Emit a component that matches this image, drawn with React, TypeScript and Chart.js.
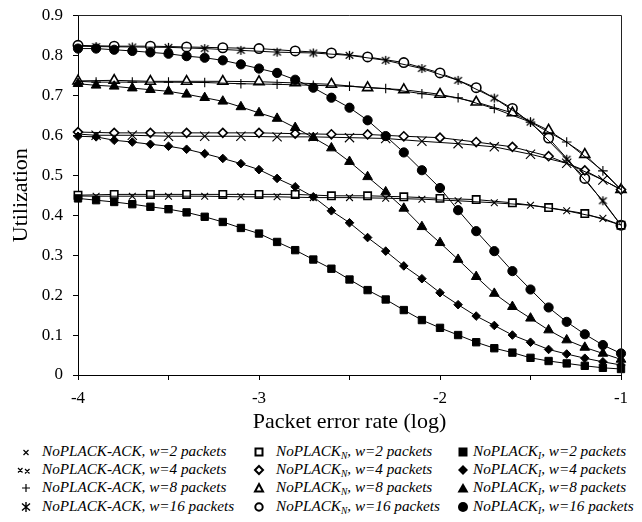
import React, { useEffect, useRef } from "react";
import { Chart, registerables } from "chart.js";
Chart.register(...registerables);

// ---- data ----
const xTenths = [-4, -3.9, -3.8, -3.7, -3.6, -3.5, -3.4, -3.3, -3.2, -3.1, -3, -2.9, -2.8, -2.7, -2.6, -2.5, -2.4, -2.3, -2.2, -2.1, -2, -1.9, -1.8, -1.7, -1.6, -1.5, -1.4, -1.3, -1.2, -1.1, -1];
const xFifths = [-4, -3.8, -3.6, -3.4, -3.2, -3, -2.8, -2.6, -2.4, -2.2, -2, -1.8, -1.6, -1.4, -1.2, -1];
const xAck = [-4, -3.9, -3.7, -3.5, -3.3, -3.1, -2.9, -2.7, -2.5, -2.3, -2.1, -1.9, -1.7, -1.5, -1.3, -1.1, -1];

const windows = [2, 4, 8, 16];

const ack2 = [0.448, 0.4475, 0.4475, 0.4475, 0.4475, 0.446, 0.446, 0.444, 0.444, 0.4425, 0.44, 0.436, 0.431, 0.425, 0.411, 0.392, 0.375];
const ack4 = [0.603, 0.6, 0.6, 0.5975, 0.5975, 0.5975, 0.596, 0.596, 0.594, 0.592, 0.585, 0.579, 0.571, 0.5525, 0.53, 0.488, 0.464];
const ack8 = [0.735, 0.733, 0.733, 0.733, 0.732, 0.729, 0.7275, 0.725, 0.7225, 0.717, 0.704, 0.694, 0.667, 0.633, 0.583, 0.511, 0.464];
const ack16 = [0.823, 0.822, 0.821, 0.82, 0.817, 0.8125, 0.808, 0.806, 0.8, 0.7875, 0.767, 0.7375, 0.693, 0.633, 0.54, 0.436, 0.375];

const n2 = [0.45, 0.452, 0.452, 0.452, 0.452, 0.452, 0.452, 0.4485, 0.4485, 0.446, 0.442, 0.439, 0.431, 0.419, 0.404, 0.375];
const n4 = [0.608, 0.606, 0.606, 0.606, 0.606, 0.606, 0.604, 0.6025, 0.602, 0.5975, 0.594, 0.583, 0.571, 0.5475, 0.512, 0.464];
const n8 = [0.736, 0.7375, 0.735, 0.735, 0.735, 0.734, 0.731, 0.7275, 0.719, 0.714, 0.7025, 0.683, 0.656, 0.6125, 0.552, 0.464];
const n16 = [0.825, 0.823, 0.823, 0.821, 0.819, 0.817, 0.811, 0.806, 0.796, 0.782, 0.756, 0.719, 0.667, 0.593, 0.492, 0.375];

const i2 = [0.442, 0.4375, 0.433, 0.4275, 0.421, 0.415, 0.407, 0.396, 0.383, 0.368, 0.354, 0.333, 0.3125, 0.289, 0.266, 0.239, 0.2125, 0.189, 0.1625, 0.1375, 0.118, 0.1, 0.082, 0.067, 0.056, 0.043, 0.035, 0.029, 0.023, 0.018, 0.015];
const i4 = [0.5975, 0.596, 0.5875, 0.583, 0.5775, 0.5725, 0.565, 0.554, 0.542, 0.529, 0.514, 0.492, 0.471, 0.446, 0.411, 0.381, 0.344, 0.31, 0.273, 0.241, 0.206, 0.176, 0.1475, 0.124, 0.1, 0.082, 0.064, 0.0525, 0.042, 0.033, 0.025];
const i8 = [0.729, 0.725, 0.7225, 0.718, 0.714, 0.71, 0.7025, 0.694, 0.685, 0.671, 0.656, 0.642, 0.619, 0.594, 0.568, 0.534, 0.496, 0.458, 0.417, 0.371, 0.331, 0.289, 0.246, 0.204, 0.171, 0.142, 0.1125, 0.0875, 0.069, 0.054, 0.039];
const i16 = [0.817, 0.817, 0.814, 0.811, 0.8075, 0.804, 0.798, 0.794, 0.7875, 0.7775, 0.767, 0.756, 0.739, 0.719, 0.694, 0.669, 0.6375, 0.598, 0.557, 0.5125, 0.468, 0.4125, 0.36, 0.31, 0.26, 0.214, 0.169, 0.133, 0.102, 0.075, 0.054];

const xTickLabels = ["-4", "-3", "-2", "-1"];
const xTitle = "Packet error rate (log)";
const yTitle = "Utilization";

const FONT = "'Liberation Serif', 'Times New Roman', serif";

function pts(xs: number[], ys: number[]) {
  return xs.map((x, i) => ({ x, y: ys[i] }));
}

function makeAsterisk(size: number) {
  const c = document.createElement("canvas");
  c.width = size;
  c.height = size;
  const g = c.getContext("2d")!;
  g.strokeStyle = "#000";
  g.lineWidth = 1.3;
  const m = size / 2;
  const r = size / 2 - 1;
  g.beginPath();
  g.moveTo(m, m - r);
  g.lineTo(m, m + r);
  g.moveTo(m - r * 0.85, m - r * 0.7);
  g.lineTo(m + r * 0.85, m + r * 0.7);
  g.moveTo(m + r * 0.85, m - r * 0.7);
  g.lineTo(m - r * 0.85, m + r * 0.7);
  g.stroke();
  return c;
}

const boxPlugin = {
  id: "box",
  afterDraw(chart: any) {
    const { ctx, chartArea: a } = chart;
    ctx.save();
    ctx.strokeStyle = "#222";
    ctx.lineWidth = 1;
    const t = Math.round(a.top) + 0.5;
    const r = Math.round(a.right) + 0.5;
    ctx.beginPath();
    ctx.moveTo(a.left, t);
    ctx.lineTo(r, t);
    ctx.lineTo(r, a.bottom);
    ctx.stroke();
    ctx.restore();
  },
};

function ChartView() {
  const ref = useRef<HTMLCanvasElement | null>(null);
  useEffect(() => {
    const star = makeAsterisk(11);
    const line = { borderColor: "#000", borderWidth: 1, fill: false, tension: 0, clip: false as any };
    const open = { pointBackgroundColor: "#fff", pointBorderColor: "#000", pointBorderWidth: 1.6 };
    const filled = { pointBackgroundColor: "#000", pointBorderColor: "#000", pointBorderWidth: 1 };
    const ack = (ys: number[], style: any, r: number) => ({
      ...line,
      data: pts(xAck, ys),
      pointStyle: style,
      pointRadius: (c: any) => (c.dataIndex === 0 || c.dataIndex === xAck.length - 1 ? 0 : r),
      pointBorderColor: "#000",
      pointBackgroundColor: "#000",
      pointBorderWidth: 1.1,
    });
    const datasets: any[] = [
      { ...line, ...filled, data: pts(xTenths, i2), pointStyle: "rect", pointRadius: 5.2 },
      { ...line, ...filled, data: pts(xTenths, i4), pointStyle: "rectRot", pointRadius: 4.3 },
      { ...line, ...filled, data: pts(xTenths, i8), pointStyle: "triangle", pointRadius: 5.6 },
      { ...line, ...filled, data: pts(xTenths, i16), pointStyle: "circle", pointRadius: 4.6 },
      ack(ack2, "crossRot", 4.8),
      ack(ack4, "crossRot", 6.5),
      ack(ack8, "cross", 4.8),
      ack(ack16, star, 5),
      { ...line, ...open, data: pts(xFifths, n2), pointStyle: "rect", pointRadius: 5.2 },
      { ...line, ...open, data: pts(xFifths, n4), pointStyle: "rectRot", pointRadius: 4.5 },
      { ...line, ...open, data: pts(xFifths, n8), pointStyle: "triangle", pointRadius: 5.8 },
      { ...line, ...open, data: pts(xFifths, n16), pointStyle: "circle", pointRadius: 4.7 },
    ];
    const chart = new Chart(ref.current!, {
      type: "line",
      data: { datasets },
      plugins: [boxPlugin],
      options: {
        responsive: false,
        animation: false,
        devicePixelRatio: 1,
        layout: { padding: { top: 7, right: 13, left: 0, bottom: 0 } },
        plugins: { legend: { display: false }, tooltip: { enabled: false } },
        scales: {
          x: {
            type: "linear",
            min: -4,
            max: -1,
            afterFit: (s: any) => {
              s.height = 63;
              s.paddingLeft = 0;
              s.paddingRight = 0;
            },
            ticks: {
              stepSize: 0.5,
              autoSkip: false,
              maxRotation: 0,
              padding: 8,
              color: "#000",
              font: { family: FONT, size: 17 },
              callback: (v: any) => {
                const idx = [-4, -3, -2, -1].indexOf(Number(v));
                return idx >= 0 ? xTickLabels[idx] : "";
              },
            },
            grid: { display: true, drawOnChartArea: false, drawTicks: true, tickLength: 5, color: "#000" },
            border: { display: true, color: "#000", width: 1 },
            title: { display: true, text: xTitle, color: "#000", font: { family: FONT, size: 22 }, padding: { top: 0, bottom: 3 } },
          },
          y: {
            type: "linear",
            min: 0,
            max: 0.9,
            afterFit: (s: any) => {
              s.width = 70;
              s.paddingTop = 0;
              s.paddingBottom = 0;
            },
            ticks: {
              stepSize: 0.1,
              padding: 10,
              color: "#000",
              font: { family: FONT, size: 17 },
              callback: (v: any) => String(Number(Number(v).toFixed(1))),
            },
            grid: { display: true, drawOnChartArea: false, drawTicks: true, tickLength: 5, color: "#000" },
            border: { display: true, color: "#000", width: 1 },
            title: { display: true, text: yTitle, color: "#000", font: { family: FONT, size: 22 }, padding: { top: 0, bottom: 0 } },
          },
        },
      },
    });
    return () => chart.destroy();
  }, []);
  return <canvas ref={ref} width={626} height={430} style={{ display: "block", width: 626, height: 430 }} />;
}

// ---- legend ----
const ackLabels = windows.map((w) => `NoPLACK-ACK, w=${w} packets`);
const rowY = [444, 462, 480, 499];
const colSym = [18, 251, 455];
const colText = [34, 268, 465];

function Sym({ kind }: { kind: string }) {
  const c = 7;
  let el: any = null;
  const st = { stroke: "#000", strokeWidth: 1.2, fill: "none" };
  switch (kind) {
    case "x":
      el = <path d="M4.5 5 L9.5 10 M9.5 5 L4.5 10" {...st} />;
      break;
    case "xx":
      el = <path d="M-1 5 L3.5 9.5 M3.5 5 L-1 9.5 M6 6 L10.5 10.5 M10.5 6 L6 10.5" {...st} />;
      break;
    case "+":
      el = <path d="M7 3 L7 11 M3 7 L11 7" {...st} />;
      break;
    case "*":
      el = <path d="M7 2 L7 12 M3 3.5 L11 10.5 M11 3.5 L3 10.5" {...st} strokeWidth={1.4} />;
      break;
    case "osq":
      el = <rect x={3.5} y={3.5} width={7} height={7} stroke="#000" strokeWidth={2} fill="#fff" />;
      break;
    case "odi":
      el = <path d="M7 3 L11 7 L7 11 L3 7 Z" stroke="#000" strokeWidth={2} fill="#fff" />;
      break;
    case "otr":
      el = <path d="M7 3 L11 10.5 L3 10.5 Z" stroke="#000" strokeWidth={2} fill="#fff" />;
      break;
    case "oci":
      el = <circle cx={c} cy={c} r={3.7} stroke="#000" strokeWidth={2} fill="#fff" />;
      break;
    case "fsq":
      el = <rect x={2.5} y={2.5} width={9} height={9} fill="#000" />;
      break;
    case "fdi":
      el = <path d="M7 2 L12 7 L7 12 L2 7 Z" fill="#000" />;
      break;
    case "ftr":
      el = <path d="M7 2 L12.5 11.5 L1.5 11.5 Z" fill="#000" />;
      break;
    case "fci":
      el = <circle cx={c} cy={c} r={5} fill="#000" />;
      break;
  }
  return (
    <svg width={14} height={14} viewBox="0 0 14 14" style={{ display: "block", overflow: "visible" }}>
      {el}
    </svg>
  );
}

const ackSyms = ["x", "xx", "+", "*"];
const nSyms = ["osq", "odi", "otr", "oci"];
const iSyms = ["fsq", "fdi", "ftr", "fci"];

const textStyle: React.CSSProperties = {
  position: "absolute",
  fontFamily: FONT,
  fontStyle: "italic",
  fontSize: 15.2,
  lineHeight: "18px",
  height: 18,
  whiteSpace: "nowrap",
  color: "#000",
};

const subStyle: React.CSSProperties = { fontSize: 9.5, verticalAlign: "-3px", lineHeight: 0 };

function Legend() {
  const items: any[] = [];
  windows.forEach((w, r) => {
    const y = rowY[r];
    const cols = [
      { sym: ackSyms[r], text: <span>{ackLabels[r]}</span> },
      { sym: nSyms[r], text: <span>NoPLACK<sub style={subStyle}>N</sub>, w={w} packets</span> },
      { sym: iSyms[r], text: <span>NoPLACK<sub style={subStyle}>I</sub>, w={w} packets</span> },
    ];
    cols.forEach((c, ci) => {
      items.push(
        <div key={`s${r}-${ci}`} style={{ position: "absolute", left: colSym[ci] - 7, top: y - 7 }}>
          <Sym kind={c.sym} />
        </div>
      );
      items.push(
        <div key={`t${r}-${ci}`} style={{ ...textStyle, left: colText[ci], top: y - 10 }}>
          {c.text}
        </div>
      );
    });
  });
  return <>{items}</>;
}

export default function App() {
  return (
    <div style={{ position: "relative", width: 626, height: 506 }}>
      <ChartView />
      <Legend />
    </div>
  );
}
